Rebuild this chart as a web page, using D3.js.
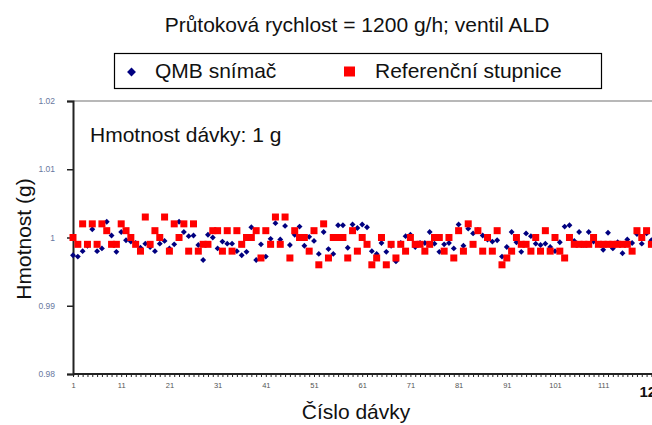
<!DOCTYPE html>
<html>
<head>
<meta charset="utf-8">
<script src="https://cdn.jsdelivr.net/npm/d3@7"></script>
<style>
  html, body { margin: 0; padding: 0; background: #fff; overflow: hidden; }
  svg { display: block; font-family: Arial, "Liberation Sans", sans-serif; }
</style>
</head>
<body>
<svg id="chart" width="652" height="425"></svg>
<script>
// ---- data ----
const titleText = "Průtoková rychlost = 1200 g/h; ventil ALD";
const seriesNames = ["QMB snímač", "Referenční stupnice"];
const annotationText = "Hmotnost dávky: 1 g";
const xTitle = "Číslo dávky";
const yTitle = "Hmotnost (g)";
const yTicks = [0.98, 0.99, 1.00, 1.01, 1.02];
const yTickLabels = ["0.98", "0.99", "1", "1.01", "1.02"];
const xTickValues = [1, 11, 21, 31, 41, 51, 61, 71, 81, 91, 101, 111, 121];

const qmb = [
  0.9974, 0.9972, 0.9980, 0.9988, 1.0012, 0.9980, 0.9984, 1.0023, 1.0003, 0.9979,
  1.0008, 0.9996, 0.9994, 0.9992, 0.9985, 0.9991, 0.9986, 0.9980, 0.9991, 0.9995,
  0.9984, 0.9990, 1.0023, 1.0008, 1.0002, 1.0003, 0.9989, 0.9967, 1.0004, 1.0000,
  0.9984, 0.9994, 0.9991, 0.9991, 0.9980, 0.9974, 0.9979, 1.0015, 0.9967, 0.9990,
  0.9972, 0.9998, 1.0021, 0.9997, 1.0017, 0.9989, 1.0004, 1.0016, 0.9988, 1.0001,
  0.9995, 0.9976, 1.0008, 0.9983, 0.9976, 1.0018, 1.0018, 0.9985, 1.0019, 1.0014,
  1.0019, 1.0015, 0.9980, 0.9976, 0.9992, 0.9979, 0.9988, 0.9965, 0.9992, 1.0002,
  1.0004, 0.9986, 0.9992, 0.9992, 1.0008, 0.9991, 0.9979, 0.9990, 0.9992, 0.9984,
  1.0019, 0.9988, 1.0013, 1.0006, 1.0011, 1.0003, 0.9997, 0.9994, 0.9996, 0.9972,
  0.9986, 1.0008, 0.9993, 0.9979, 1.0006, 1.0002, 0.9991, 0.9989, 0.9991, 0.9986,
  0.9980, 0.9993, 1.0016, 1.0018, 0.9995, 1.0008, 0.9989, 1.0008, 0.9994, 0.9991,
  0.9982, 1.0007, 0.9984, 0.9993, 0.9977, 0.9997, 0.9992, 1.0005, 0.9991, 1.0006,
  0.9996
];
const reference = [
  1.000, 0.999, 1.002, 0.999, 1.002, 0.999, 1.002, 1.001, 0.999, 0.999,
  1.002, 1.001, 1.000, 0.999, 0.998, 1.003, 0.999, 1.001, 1.000, 1.003,
  0.998, 1.002, 1.000, 1.002, 0.998, 1.002, 0.998, 0.999, 0.999, 1.001,
  1.001, 0.998, 1.001, 0.998, 1.001, 0.999, 1.000, 1.000, 1.001, 0.997,
  1.001, 0.999, 1.003, 0.999, 1.003, 0.997, 1.001, 1.000, 1.000, 0.998,
  1.001, 0.996, 1.002, 0.997, 1.000, 1.000, 1.000, 0.997, 1.001, 0.998,
  1.000, 0.999, 0.996, 0.997, 1.000, 0.996, 0.999, 0.997, 0.999, 0.998,
  1.000, 0.999, 0.999, 0.998, 0.999, 1.000, 1.000, 0.998, 1.000, 0.997,
  1.001, 0.998, 1.002, 0.999, 1.001, 0.998, 1.000, 0.998, 1.001, 0.996,
  0.997, 0.998, 1.000, 0.999, 0.999, 0.998, 1.000, 0.998, 1.001, 0.998,
  1.000, 0.998, 0.997, 1.000, 0.999, 0.999, 0.999, 0.999, 1.000, 0.999,
  0.999, 0.999, 0.999, 0.999, 0.999, 0.999, 0.998, 1.001, 1.000, 1.001,
  0.999
];
const batchIds = d3.range(1, qmb.length + 1);

// ---- layout ----
const svg = d3.select("#chart");
const pLeft = 73, pRight = 651.4, pTop = 101, pBottom = 374;
const x = d3.scaleLinear().domain([1, 121]).range([pLeft, pRight]);
const y = d3.scaleLinear().domain([0.98, 1.02]).range([pBottom, pTop]);

svg.append("rect").attr("width", 652).attr("height", 425).attr("fill", "#fff");

// title
svg.append("text").attr("x", 357).attr("y", 31.5).attr("text-anchor", "middle")
  .attr("font-size", 21).attr("fill", "#111").text(titleText);

// legend
const lg = svg.append("g");
lg.append("rect").attr("x", 114.5).attr("y", 53.5).attr("width", 487).attr("height", 35)
  .attr("fill", "#fff").attr("stroke", "#000").attr("stroke-width", 1.2);
lg.append("path").attr("d", d3.symbol(d3.symbolDiamond2, 50)())
  .attr("transform", "translate(131.5,72)").attr("fill", "#000080");
lg.append("text").attr("x", 155).attr("y", 77.5).attr("font-size", 21).attr("fill", "#111").text(seriesNames[0]);
lg.append("rect").attr("x", 344).attr("y", 66.5).attr("width", 11).attr("height", 10).attr("fill", "#ff0000");
lg.append("text").attr("x", 375).attr("y", 77.5).attr("font-size", 21).attr("fill", "#111").text(seriesNames[1]);

// top plot border (gray)
svg.append("line").attr("x1", pLeft).attr("x2", 652).attr("y1", pTop).attr("y2", pTop)
  .attr("stroke", "#a0a0a0").attr("stroke-width", 1.5);

// y axis
const yAxis = d3.axisLeft(y).tickValues(yTicks)
  .tickFormat((d, i) => yTickLabels[i]).tickSize(6).tickPadding(12);
const gy = svg.append("g").attr("transform", `translate(${pLeft},0)`).call(yAxis);
gy.select(".domain").attr("stroke", "#222").attr("stroke-width", 2);
gy.selectAll(".tick line").attr("stroke", "#222").attr("stroke-width", 1.5);
gy.selectAll(".tick text").attr("font-size", 8.5).attr("fill", "#6878a0")
  .attr("font-family", "Arial, 'Liberation Sans', sans-serif");

// x axis: minor ticks per batch
const xAxisMinor = d3.axisBottom(x).tickValues(batchIds).tickFormat("").tickSize(3).tickSizeOuter(0);
const gxm = svg.append("g").attr("transform", `translate(0,${pBottom})`).call(xAxisMinor);
gxm.select(".domain").attr("stroke", "#222").attr("stroke-width", 2).attr("d", `M${pLeft},0H652`);
gxm.selectAll(".tick line").attr("stroke", "#222").attr("stroke-width", 1);

const xAxisLab = d3.axisBottom(x).tickValues(xTickValues).tickSize(0).tickPadding(9).tickFormat(d3.format("d"));
const gx = svg.append("g").attr("transform", `translate(0,${pBottom})`).call(xAxisLab);
gx.select(".domain").remove();
gx.selectAll(".tick text").attr("font-size", 7.5).attr("fill", "#555")
  .attr("font-family", "Arial, 'Liberation Sans', sans-serif")
  .filter(d => d === 121).attr("font-size", 15).attr("font-weight", "bold").attr("fill", "#111").attr("dy", "0.95em");

// axis titles
svg.append("text").attr("x", 356).attr("y", 419).attr("text-anchor", "middle")
  .attr("font-size", 21).attr("fill", "#111").text(xTitle);
svg.append("text").attr("transform", "translate(31,239) rotate(-90)").attr("text-anchor", "middle")
  .attr("font-size", 21).attr("fill", "#111").text(yTitle);

// annotation
svg.append("text").attr("x", 90).attr("y", 141.5).attr("font-size", 21).attr("fill", "#111").text(annotationText);

// points
const gp = svg.append("g");
gp.selectAll("path.qmb").data(qmb).join("path").attr("class", "qmb")
  .attr("d", d3.symbol(d3.symbolDiamond2, 22)())
  .attr("transform", (d, i) => `translate(${x(batchIds[i])},${y(d)})`)
  .attr("fill", "#000080");
gp.selectAll("rect.ref").data(reference).join("rect").attr("class", "ref")
  .attr("x", (d, i) => x(batchIds[i]) - 3.5).attr("y", d => y(d) - 3.5)
  .attr("width", 7).attr("height", 7).attr("fill", "#ff0000");
</script>
</body>
</html>
